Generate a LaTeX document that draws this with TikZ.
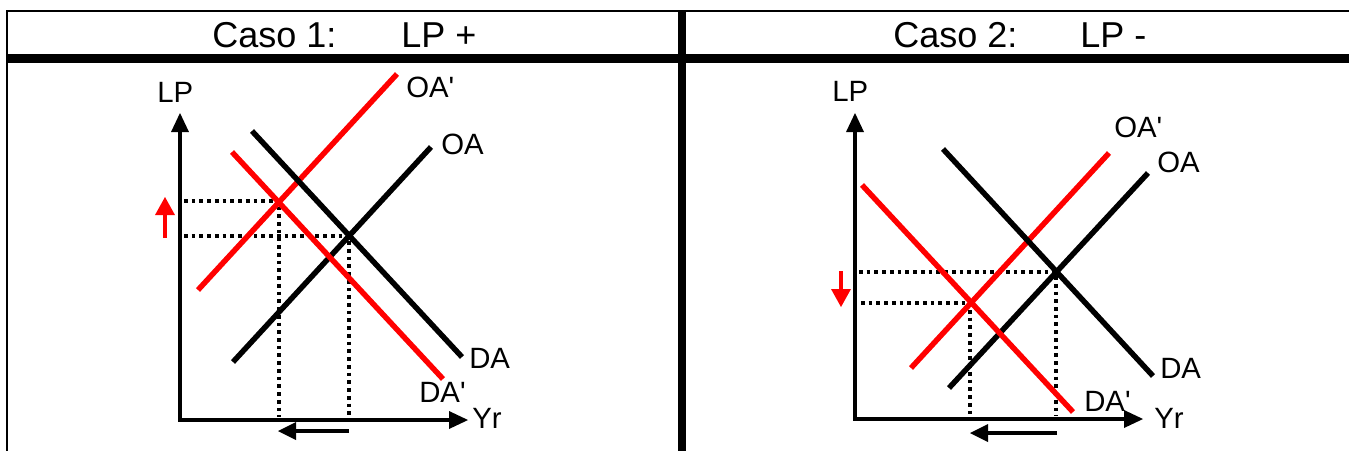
\documentclass[tikz,border=0pt]{standalone}
\usepackage{fontspec}
\setmainfont{Liberation Sans}

\begin{document}
\begin{tikzpicture}[x=0.75pt,y=0.75pt,yscale=-1,xscale=1,
  curva/.style={line width=4.1},
  eje/.style={line width=3.4, line join=miter},
  punteado/.style={line width=2.8, dash pattern=on 2.8pt off 3pt},
  punta/.style={fill=black, draw=none},
  rojo/.style={color={rgb, 255:red, 255; green, 0; blue, 0 }},
  titulo/.style={anchor=base west, inner sep=0pt, font=\fontsize{27}{32}\selectfont},
  etiqueta/.style={anchor=west, inner sep=0pt, font=\fontsize{22}{26}\selectfont}]
\useasboundingbox (0,0) rectangle (1349,451);

%Table Lines
\draw [line width=1.5]    (7,11) -- (1349,11) ;
\draw [line width=1.5]    (7,10) -- (7,451) ;
\draw [line width=6.75]    (7,58) -- (1349,58) ;
\draw [line width=6.4]    (682,10) -- (682,451) ;

% Text Node
\draw (212,47) node [titulo] (caso1) {Caso 1:};
% Text Node
\draw (401,47) node [titulo] (lpmas) {LP +};
% Text Node
\draw (893,47) node [titulo] (caso2) {Caso 2:};
% Text Node
\draw (1080,47) node [titulo] (lpmenos) {LP -};

%%%% Caso 1
%Dotted Lines
\draw [punteado]    (184,201) -- (279,201) -- (279,417) ;
\draw [punteado]    (184,236) -- (349,236) -- (349,417) ;
%Axes
\draw [eje]    (180,124) -- (180,420) -- (458,420) ;
\draw [shift={(180,113)}, rotate = 90] [punta] (19,-9) -- (0,0) -- (19,9) -- cycle ;
\draw [shift={(468,420)}, rotate = 180] [punta] (19,-9) -- (0,0) -- (19,9) -- cycle ;
%Curve Lines
\draw [curva, rojo]    (198,290) -- (397,74) ;
\draw [curva]    (233,362) -- (431,147) ;
\draw [curva]    (252,131) -- (462,357) ;
\draw [curva, rojo]    (232,152) -- (443,379) ;
%Small Arrows
\draw [line width=3.4, rojo]    (165,238) -- (165,210) ;
\draw [shift={(165,197)}, rotate = 90] [punta, rojo, fill] (18,-10) -- (0,0) -- (18,10) -- cycle ;
\draw [line width=3.4]    (349,431) -- (290,431) ;
\draw [shift={(278,431)}, rotate = 0] [punta] (18,-9) -- (0,0) -- (18,9) -- cycle ;

% Text Node
\draw (157,92) node [etiqueta] (lp1) {LP};
% Text Node
\draw (406,87) node [etiqueta] (oap1) {OA\textquotesingle};
% Text Node
\draw (441,144) node [etiqueta] (oa1) {OA};
% Text Node
\draw (469,358) node [etiqueta] (da1) {DA};
% Text Node
\draw (419,392) node [etiqueta] (dap1) {DA\textquotesingle};
% Text Node
\draw (472,418) node [etiqueta] (yr1) {Yr};

%%%% Caso 2
%Dotted Lines
\draw [punteado]    (859,272) -- (1056,272) -- (1056,416) ;
\draw [punteado]    (861,303) -- (970,303) -- (970,416) ;
%Axes
\draw [eje]    (855,124) -- (855,419) -- (1133,419) ;
\draw [shift={(855,113)}, rotate = 90] [punta] (19,-9) -- (0,0) -- (19,9) -- cycle ;
\draw [shift={(1143,419)}, rotate = 180] [punta] (19,-9) -- (0,0) -- (19,9) -- cycle ;
%Curve Lines
\draw [curva, rojo]    (911,368) -- (1109,153) ;
\draw [curva]    (949,388) -- (1148,173) ;
\draw [curva]    (943,149) -- (1153,376) ;
\draw [curva, rojo]    (862,185) -- (1073,412) ;
%Small Arrows
\draw [line width=3.4, rojo]    (841,271) -- (841,295) ;
\draw [shift={(841,307)}, rotate = 270] [punta, rojo, fill] (18,-10) -- (0,0) -- (18,10) -- cycle ;
\draw [line width=3.4]    (1057,433) -- (982,433) ;
\draw [shift={(970,433)}, rotate = 0] [punta] (18,-9) -- (0,0) -- (18,9) -- cycle ;

% Text Node
\draw (832,91) node [etiqueta] (lp2) {LP};
% Text Node
\draw (1114,127) node [etiqueta] (oap2) {OA\textquotesingle};
% Text Node
\draw (1157,162) node [etiqueta] (oa2) {OA};
% Text Node
\draw (1160,368) node [etiqueta] (da2) {DA};
% Text Node
\draw (1084,401) node [etiqueta] (dap2) {DA\textquotesingle};
% Text Node
\draw (1154,418) node [etiqueta] (yr2) {Yr};

\end{tikzpicture}
\end{document}
